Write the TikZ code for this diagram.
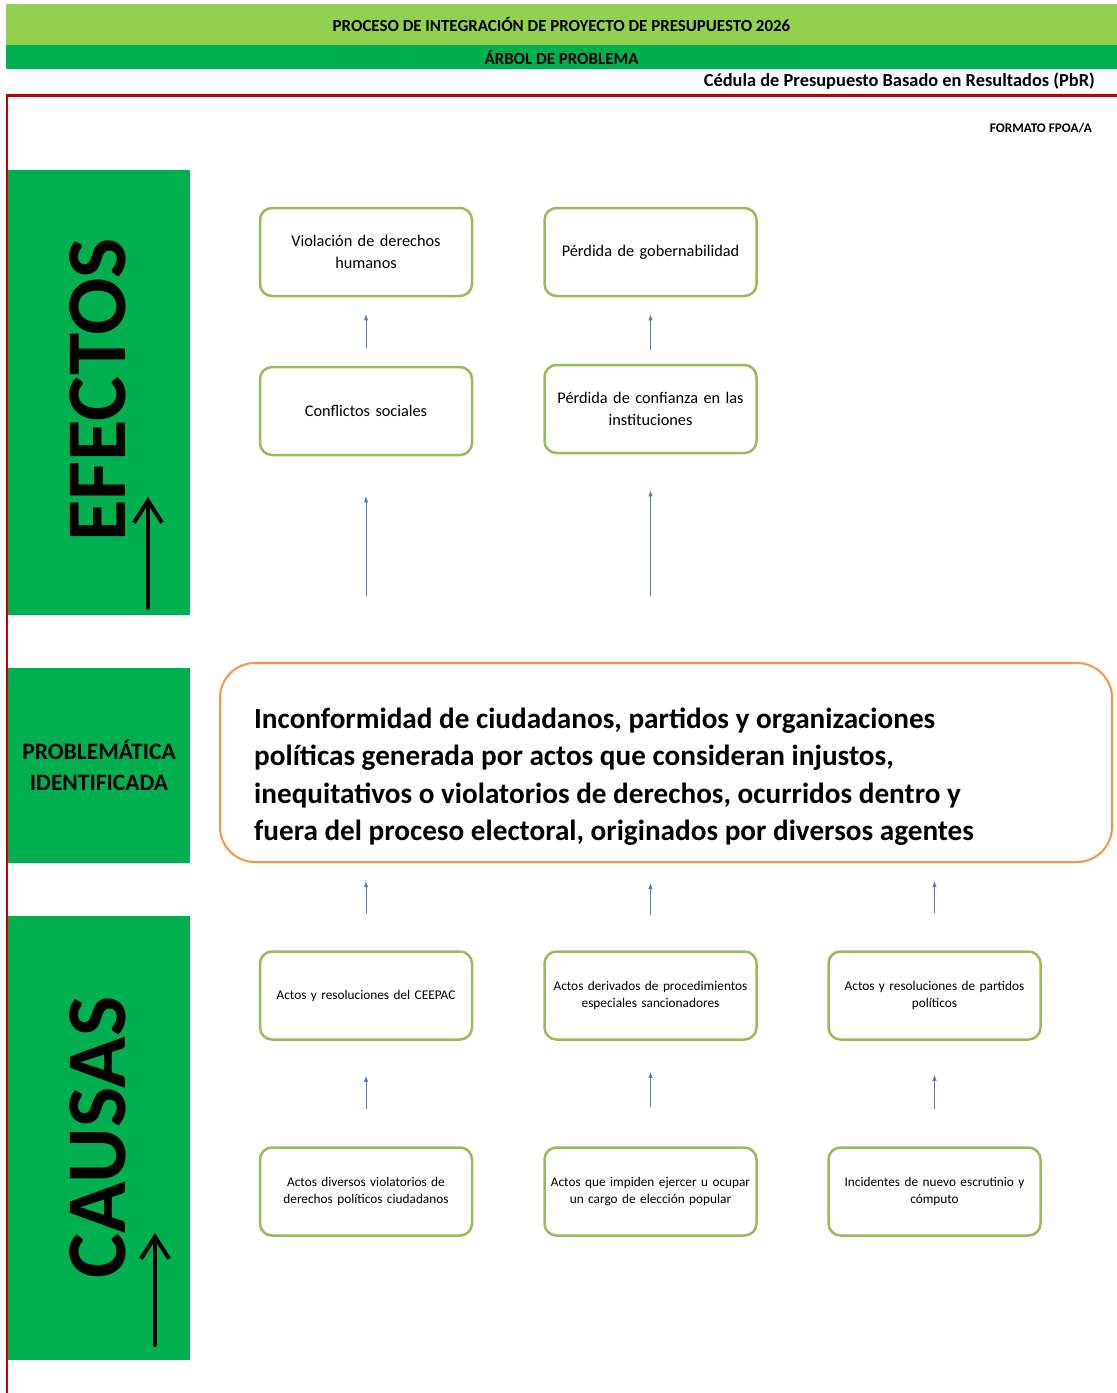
\documentclass[tikz,border=0pt]{standalone}
\usepackage{fontspec}
\setmainfont{Carlito}
\usetikzlibrary{positioning,arrows.meta}
\definecolor{verdeclaro}{HTML}{92D050}
\definecolor{verde}{HTML}{00B050}
\definecolor{rojo}{HTML}{C00000}
\definecolor{olivo}{HTML}{9BBB59}
\definecolor{naranja}{HTML}{F79646}
\definecolor{azul}{HTML}{4F81BD}
\tikzset{
caja/.style={draw=olivo, line width=2.5pt, rounded corners=12pt, minimum width=212pt, minimum height=88pt, text width=206pt, align=center, inner sep=0pt, font=\fontsize{16.3}{22}\selectfont}, % cajas de efectos
causa/.style={caja, font=\fontsize{13.3}{17.5}\selectfont}, % cajas de causas
flecha/.style={-{Latex[length=6pt,width=4.5pt]}, color=azul, line width=0.8pt}, % flechas azules
panel/.style={fill=verde, inner sep=0pt, minimum width=182pt},
rotulo/.style={rotate=90, inner sep=0pt, font=\fontsize{85}{85}\bfseries\selectfont},
negra/.style={-{Straight Barb[length=22pt,width=28pt]}, line width=4pt, line cap=round},
}

\begin{document}
\begin{tikzpicture}[x=1pt,y=-1pt,on grid]
   \useasboundingbox (0,0) rectangle (1117,1393);
   % encabezado
   \node[fill=verdeclaro, minimum width=1111pt, minimum height=41pt, inner sep=0pt, font=\fontsize{16.9}{18}\bfseries\selectfont] (barra1) at (561.5,24.5) {PROCESO DE INTEGRACIÓN DE PROYECTO DE PRESUPUESTO 2026};
   \node[fill=verde, minimum width=1111pt, minimum height=24pt, inner sep=0pt, font=\fontsize{16.9}{18}\bfseries\selectfont] (barra2) at (561.5,57) {ÁRBOL DE PROBLEMA};
   \node[anchor=east, inner sep=0pt, font=\fontsize{18.4}{20}\bfseries\selectfont] (cedula) at (1095,81) {Cédula de Presupuesto Basado en Resultados (PbR)};
   \node[anchor=east, inner sep=0pt, font=\fontsize{13.2}{15}\bfseries\selectfont] (formato) at (1092,128) {FORMATO FPOA/A};
   \coordinate (r0) at (6,95);
   \coordinate (r1) at (1117,95);
   \coordinate (r2) at (7,1393);
   \draw[rojo, line width=3pt] (r0) -- (r1);
   \draw[rojo, line width=2pt] (7,95) -- (r2);

   % paneles verdes
   \node[panel, minimum height=445pt] (pefectos) at (99,392.5) {};
   \node[rotulo] (tefectos) at (98,390) {EFECTOS};
   \coordinate (fe0) at (148,608);
   \coordinate (fe1) at (148,497);
   \draw[negra] (fe0) -- (fe1);
   \node[panel, minimum height=195pt, align=center, font=\fontsize{23.5}{31}\bfseries\selectfont] (pproblema) at (99,765.5) {PROBLEMÁTICA\\IDENTIFICADA};
   \node[panel, minimum height=444pt] (pcausas) at (99,1138) {};
   \node[rotulo] (tcausas) at (98,1137.5) {CAUSAS};
   \coordinate (fc0) at (155,1345);
   \coordinate (fc1) at (155,1233);
   \draw[negra] (fc0) -- (fc1);

   % efectos
   \node[caja] (viol) at (366,252) {Violación de derechos\\humanos};
   \node[caja] (gober) [right=284.5pt of viol] {Pérdida de gobernabilidad};
   \node[caja] (confl) [below=159pt of viol] {Conflictos sociales};
   \node[caja] (confianza) [below=157pt of gober] {Pérdida de confianza en las\\instituciones};

   % problema central
   \node[draw=naranja, line width=2pt, rounded corners=35pt, minimum width=892pt, minimum height=199pt] (prob) at (666,762.5) {};
   \node[anchor=west, align=left, inner sep=0pt, font=\fontsize{29.2}{37.5}\bfseries\selectfont] (probtxt) at (254,776.5) {Inconformidad de ciudadanos, partidos y organizaciones\\políticas generada por actos que consideran injustos,\\inequitativos o violatorios de derechos, ocurridos dentro y\\fuera del proceso electoral, originados por diversos agentes};

   % causas
   \node[causa] (ceepac) at (366,995.5) {Actos y resoluciones del CEEPAC};
   \node[causa] (derivados) [right=284.5pt of ceepac] {Actos derivados de procedimientos\\especiales sancionadores};
   \node[causa] (partidos) [right=284pt of derivados] {Actos y resoluciones de partidos\\políticos};
   \node[causa] (diversos) [below=196pt of ceepac] {Actos diversos violatorios de\\derechos políticos ciudadanos};
   \node[causa] (impiden) [below=196pt of derivados] {Actos que impiden ejercer u ocupar\\un cargo de elección popular};
   \node[causa] (escrutinio) [below=196pt of partidos] {Incidentes de nuevo escrutinio y\\cómputo};

   \path[flecha]
   (confl) edge[shorten <=18pt, shorten >=17pt] (viol)
   (confianza) edge[shorten <=14pt, shorten >=17pt] (gober)
   (diversos) edge[shorten <=37pt, shorten >=35pt] (ceepac)
   (impiden) edge[shorten <=39pt, shorten >=31pt] (derivados)
   (escrutinio) edge[shorten <=37pt, shorten >=34pt] (partidos);
   \draw[flecha, shorten <=66pt, shorten >=40pt] (confl.south |- prob.north) -- (confl.south);
   \draw[flecha, shorten <=66pt, shorten >=36pt] (confianza.south |- prob.north) -- (confianza.south);
   \draw[flecha, shorten <=36pt, shorten >=18pt] (ceepac.north) -- (ceepac.north |- prob.south);
   \draw[flecha, shorten <=35pt, shorten >=20pt] (derivados.north) -- (derivados.north |- prob.south);
   \draw[flecha, shorten <=37pt, shorten >=18pt] (partidos.north) -- (partidos.north |- prob.south);
\end{tikzpicture}
\end{document}
